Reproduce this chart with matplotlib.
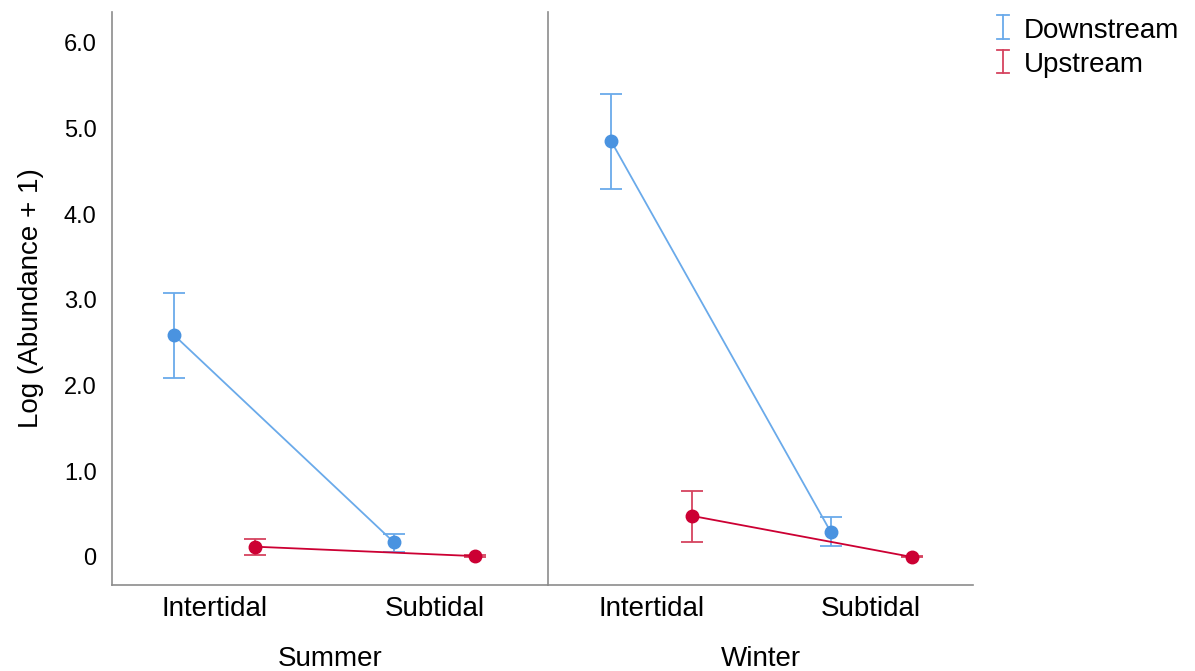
import matplotlib.pyplot as plt
from matplotlib.legend_handler import HandlerBase
from matplotlib.lines import Line2D

plt.rcParams['font.family'] = ['Liberation Sans', 'DejaVu Sans']

# Means and 95% CI limits, log(abundance + 1)
habitats = ["Intertidal", "Subtidal"]
seasons = ["Summer", "Winter"]

down_mean = {"Summer": [2.59, 0.17], "Winter": [4.86, 0.29]}
down_low = {"Summer": [2.09, 0.06], "Winter": [4.30, 0.13]}
down_high = {"Summer": [3.08, 0.27], "Winter": [5.40, 0.47]}

up_mean = {"Summer": [0.12, 0.01], "Winter": [0.48, 0.00]}
up_low = {"Summer": [0.02, 0.00], "Winter": [0.18, 0.00]}
up_high = {"Summer": [0.21, 0.02], "Winter": [0.77, 0.01]}

blue_pt = '#4a93e0'
blue_bar = '#6aaaea'
red_pt = '#cc0033'
red_bar = '#d5435f'
spine_col = '#8c8c8c'


class IBeamHandler(HandlerBase):
    # legend glyph: a vertical error bar with two caps
    def create_artists(self, legend, orig_handle, xdescent, ydescent,
                       width, height, fontsize, trans):
        c = orig_handle.get_color()
        xm = width / 2 - xdescent
        half = 4.5
        y0, y1 = -ydescent - 1, height - ydescent + 2
        art = [Line2D([xm, xm], [y0, y1], color=c, lw=1.3),
               Line2D([xm - half, xm + half], [y0, y0], color=c, lw=1.3),
               Line2D([xm - half, xm + half], [y1, y1], color=c, lw=1.3)]
        for a in art:
            a.set_transform(trans)
        return art


fig = plt.figure(figsize=(11.95, 6.71), dpi=100)
bottom, height = 0.1282, 0.854
axes = [fig.add_axes([0.0937, bottom, 0.4586 - 0.0937, height]),
        fig.add_axes([0.4586, bottom, 0.8142 - 0.4586, height])]
xlims = [(-0.466, 1.516), (-0.4695, 1.462)]
off = 0.184

for ax, season, xl in zip(axes, seasons, xlims):
    xs = [0, 1]
    xd = [x - off for x in xs]
    xu = [x + off for x in xs]

    # downstream
    m = down_mean[season]
    err = [[m[i] - down_low[season][i] for i in range(2)],
           [down_high[season][i] - m[i] for i in range(2)]]
    ax.errorbar(xd, m, yerr=err, fmt='none', ecolor=blue_bar,
                elinewidth=1.3, capsize=8, capthick=1.3, zorder=2)
    ax.plot(xd, m, color=blue_bar, lw=1.3, zorder=3)
    ax.plot(xd, m, 'o', color=blue_pt, ms=9, zorder=4)

    # upstream
    m = up_mean[season]
    err = [[m[i] - up_low[season][i] for i in range(2)],
           [up_high[season][i] - m[i] for i in range(2)]]
    ax.errorbar(xu, m, yerr=err, fmt='none', ecolor=red_bar,
                elinewidth=1.3, capsize=8, capthick=1.3, zorder=2)
    ax.plot(xu, m, color=red_pt, lw=1.3, zorder=3)
    ax.plot(xu, m, 'o', color=red_pt, ms=9, zorder=4)

    ax.set_xlim(xl)
    ax.set_ylim(-0.327, 6.362)
    ax.set_xticks(xs)
    ax.set_xticklabels(habitats, fontsize=20)
    ax.set_xlabel(season, fontsize=20, labelpad=17)
    for s in ['top', 'right']:
        ax.spines[s].set_visible(False)
    for s in ['left', 'bottom']:
        ax.spines[s].set_color(spine_col)
        ax.spines[s].set_linewidth(1.2)
    ax.tick_params(length=0)
    ax.tick_params(axis='x', pad=8)

axes[0].set_yticks([0, 1, 2, 3, 4, 5, 6])
axes[0].set_yticklabels(['0', '1.0', '2.0', '3.0', '4.0', '5.0', '6.0'],
                        fontsize=17)
axes[0].tick_params(axis='y', pad=11)
axes[0].set_ylabel('Log (Abundance + 1)', fontsize=20, labelpad=14)
axes[1].set_yticks([])

handles = [Line2D([], [], color=blue_bar), Line2D([], [], color=red_bar)]
fig.legend(handles, ['Downstream', 'Upstream'], loc='upper left',
           bbox_to_anchor=(0.823, 0.9925), frameon=False, fontsize=20,
           handler_map={Line2D: IBeamHandler()}, handlelength=0.5,
           handletextpad=0.5, labelspacing=0.3, borderpad=0.25,
           borderaxespad=0.2)

fig.savefig('out.png', dpi=100)
